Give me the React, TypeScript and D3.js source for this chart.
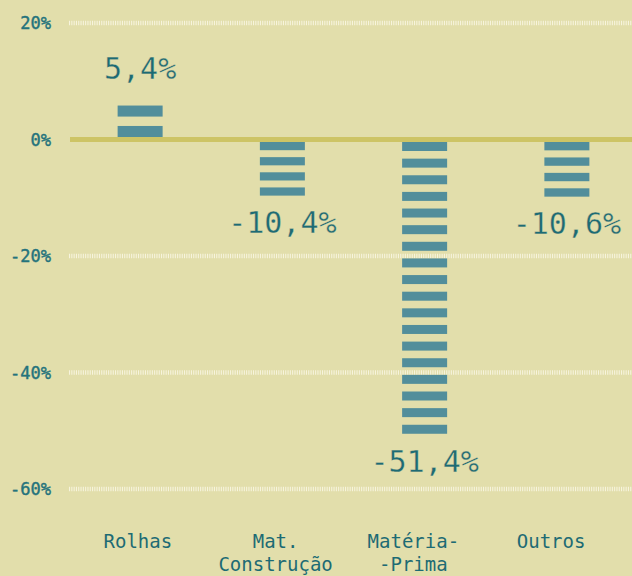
import React, { useEffect } from "react";
import * as d3 from "d3";

const categories: string[][] = [["Rolhas"], ["Mat.", "Construção"], ["Matéria-", "-Prima"], ["Outros"]];
const values: number[] = [5.4, -10.4, -51.4, -10.6];
const valueLabels: string[] = ["5,4%", "-10,4%", "-51,4%", "-10,6%"];
const yTicks: number[] = [20, 0, -20, -40, -60];
const gridTicks: number[] = [20, -20, -40, -60];

const W = 632;
const H = 576;
const BG = "#e2deab";
const TEXT = "#1d6b74";
const BAR = "#528e9b";
const ZERO = "#cdc465";
const FONT = "'DejaVu Sans Mono', monospace";

export default function App() {
  useEffect(() => {
    document.body.style.margin = "0";
    document.body.style.background = BG;
  }, []);

  const ids = categories.map((_, i) => String(i));
  const x = d3.scaleBand<string>().domain(ids).range([69, 638]);
  const xl = d3.scaleBand<string>().domain(ids).range([69, 620]);
  const y = d3.scaleLinear().domain([-60, 20]).range([489, 23]);
  const y0 = y(0);
  const barW = 45;
  const k = 0.85;

  const stripes = (v: number) => {
    const n = Math.ceil(Math.abs(v) / 3);
    const L = Math.abs(y(v) - y0);
    const out: { y: number; h: number }[] = [];
    if (v >= 0) {
      const s = L / (n + k * (n - 1));
      const top = y0 - 2.5 - L;
      for (let i = 0; i < n; i++) out.push({ y: top + i * s * (1 + k), h: s });
    } else {
      const s = L / (n * (1 + k));
      const start = y0 + 2.5;
      for (let i = 0; i < n; i++) out.push({ y: start + i * s * (1 + k), h: s });
    }
    return out;
  };

  return (
    <svg width={W} height={H} style={{ display: "block", background: BG }} fontFamily={FONT}>
      <rect x={0} y={0} width={W} height={H} fill={BG} />
      {gridTicks.map((t) => (
        <line key={t} x1={69} x2={W} y1={y(t)} y2={y(t)} stroke="#fbf8e6" strokeWidth={4.5} strokeDasharray="1.1 1.2" opacity={0.85} />
      ))}
      <line x1={70} x2={W} y1={y0} y2={y0} stroke={ZERO} strokeWidth={5} />
      {yTicks.map((t) => (
        <text key={t} x={51} y={y(t)} dy="0.36em" textAnchor="end" fontSize={17} fill="#24737c" stroke="#24737c" strokeWidth={0.4}>
          {`${t}%`}
        </text>
      ))}
      {values.map((v, i) => {
        const cx = (x(ids[i]) as number) + x.bandwidth() / 2;
        return (
          <g key={i}>
            {stripes(v).map((s, j) => (
              <rect key={j} x={cx - barW / 2} y={s.y} width={barW} height={s.h} fill={BAR} />
            ))}
            <text x={cx} y={v >= 0 ? y(v) - 29 : y(v) + 33} textAnchor="middle" fontSize={30} fill={TEXT}
              stroke={BG} strokeWidth={0.3}>
              {valueLabels[i]}
            </text>
          </g>
        );
      })}
      {categories.map((lines, i) => {
        const cx = (xl(ids[i]) as number) + xl.bandwidth() / 2;
        return (
          <text key={i} x={cx} y={547.5} textAnchor="middle" fontSize={19} fill={TEXT}>
            {lines.map((l, j) => (
              <tspan key={j} x={cx} dy={j === 0 ? 0 : 23.5}>
                {l}
              </tspan>
            ))}
          </text>
        );
      })}
    </svg>
  );
}
